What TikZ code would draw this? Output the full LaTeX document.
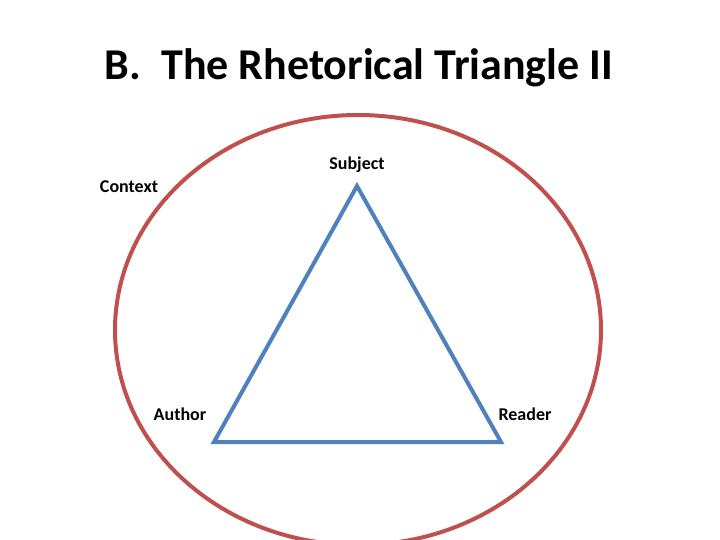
\documentclass[tikz,border=0pt]{standalone}
\usepackage{fontspec}
\setmainfont{Carlito}
\usetikzlibrary{shapes.geometric}
\definecolor{ctxred}{HTML}{C0504D}
\definecolor{triblue}{HTML}{4F81BD}
\begin{document}
\begin{tikzpicture}[x=1pt,y=-1pt,
  lab/.style={font=\bfseries\fontsize{18}{20}\selectfont, inner sep=0pt}]
\useasboundingbox (0,0) rectangle (720,540);
\clip (0,0) rectangle (720,540);
\fill[white] (0,0) rectangle (720,540);
\node[font=\bfseries\fontsize{44}{50}\selectfont, inner sep=0pt] (title) at (359,68) {B.\ \ The Rhetorical Triangle II};
\node[draw=ctxred, line width=4pt, ellipse, minimum width=486pt, minimum height=430pt, inner sep=0pt] (ctx) at (358,330) {};
\coordinate (s) at (357,186);
\coordinate (a) at (214,442);
\coordinate (r) at (501,442);
\draw[triblue, line width=4pt, line join=miter] (s) -- (a) -- (r) -- cycle;
\node[lab] (subj) at (357,165) {Subject};
\node[lab] (cont) at (129,187) {Context};
\node[lab] (auth) at (180,414) {Author};
\node[lab] (read) at (525,414) {Reader};
\end{tikzpicture}
\end{document}
